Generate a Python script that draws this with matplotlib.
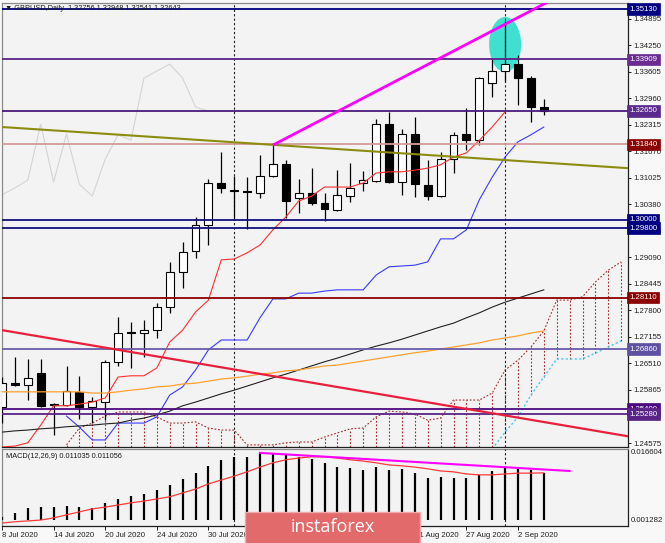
import numpy as np
import matplotlib
matplotlib.use('Agg')
import matplotlib.pyplot as plt
from matplotlib.patches import Ellipse, FancyBboxPatch
from matplotlib.transforms import blended_transform_factory

plt.rcParams['font.family'] = ['Liberation Sans', 'DejaVu Sans']

# ---------------- data ----------------
opens = [1.2545, 1.2603, 1.2599, 1.2628, 1.2553, 1.2550, 1.2582, 1.2545, 1.2557, 1.2655,
         1.2727, 1.2725, 1.2732, 1.2788, 1.2873, 1.2924, 1.2988, 1.3090, 1.3073, 1.3070,
         1.3066, 1.3107, 1.3136, 1.3053, 1.3066, 1.3041, 1.3024, 1.3058, 1.3090, 1.3095,
         1.3233, 1.3092, 1.3209, 1.3085, 1.3058, 1.3148, 1.3209, 1.3194, 1.3333, 1.3362,
         1.3379, 1.3345, 1.32756]
highs = [1.2618, 1.2667, 1.2662, 1.2662, 1.2556, 1.2645, 1.2621, 1.2569, 1.2659, 1.2764,
         1.2752, 1.2757, 1.2798, 1.2898, 1.2946, 1.3007, 1.3100, 1.3165, 1.3107, 1.3104,
         1.3158, 1.3182, 1.3146, 1.3100, 1.3126, 1.3066, 1.3121, 1.3139, 1.3119, 1.3246,
         1.3263, 1.3221, 1.3250, 1.3146, 1.3165, 1.3214, 1.3272, 1.3348, 1.3391, 1.3484,
         1.3401, 1.3350, 1.32948]
lows = [1.2506, 1.2596, 1.2562, 1.2545, 1.2477, 1.2548, 1.2516, 1.2506, 1.2514, 1.2645,
        1.2640, 1.2667, 1.2713, 1.2774, 1.2835, 1.2907, 1.2939, 1.3066, 1.2999, 1.2978,
        1.3053, 1.3104, 1.3005, 1.3017, 1.3036, 1.2997, 1.3022, 1.3044, 1.3070, 1.3092,
        1.3090, 1.3061, 1.3056, 1.3048, 1.3056, 1.3114, 1.3170, 1.3182, 1.3299, 1.3336,
        1.3280, 1.3238, 1.32541]
closes = [1.2603, 1.2599, 1.2616, 1.2547, 1.2551, 1.2584, 1.2545, 1.2560, 1.2655, 1.2725,
          1.2725, 1.2732, 1.2788, 1.2873, 1.2922, 1.2988, 1.3090, 1.3078, 1.3070, 1.3067,
          1.3107, 1.3136, 1.3046, 1.3066, 1.3041, 1.3026, 1.3061, 1.3078, 1.3097, 1.3233,
          1.3092, 1.3209, 1.3087, 1.3058, 1.3148, 1.3207, 1.3194, 1.3345, 1.3362, 1.3379,
          1.3345, 1.3275, 1.32643]

tenkan = [1.2448, 1.2450, 1.2458, 1.2501, 1.2548, 1.2548, 1.2552, 1.2557, 1.2567, 1.2618,
          1.2621, 1.2621, 1.2640, 1.2703, 1.2732, 1.2776, 1.2805, 1.2903, 1.2905, 1.2920,
          1.2939, 1.2976, 1.3007, 1.3046, 1.3058, 1.3080, 1.3080, 1.3080, 1.3090, 1.3114,
          1.3117, 1.3117, 1.3121, 1.3126, 1.3134, 1.3153, 1.3163, 1.3194, 1.3226, 1.3263]
kijun_start = 5
kijun = [1.2523, 1.2496, 1.2465, 1.2465, 1.2506, 1.2506, 1.2506, 1.2521, 1.2574, 1.2594,
         1.2635, 1.2684, 1.2708, 1.2708, 1.2708, 1.2762, 1.2808, 1.2808, 1.2822, 1.2822,
         1.2827, 1.2830, 1.2830, 1.2830, 1.2866, 1.2886, 1.2888, 1.2890, 1.2898, 1.2954,
         1.2954, 1.2976, 1.3049, 1.3104, 1.3153, 1.3190, 1.3207, 1.3226]
ma_black = [1.2484, 1.2487, 1.2489, 1.2492, 1.2494, 1.2497, 1.2499, 1.2501, 1.2504, 1.2506,
            1.2513, 1.2518, 1.2526, 1.2535, 1.2548, 1.2557, 1.2567, 1.2577, 1.2586, 1.2596,
            1.2606, 1.2616, 1.2625, 1.2635, 1.2645, 1.2655, 1.2664, 1.2674, 1.2684, 1.2693,
            1.2701, 1.2710, 1.2720, 1.2730, 1.2740, 1.2749, 1.2762, 1.2774, 1.2788, 1.2800,
            1.2810, 1.2820, 1.2830]
ma_orange = [1.2582, 1.2582, 1.2582, 1.2582, 1.2582, 1.2582, 1.2582, 1.2579, 1.2579, 1.2582,
             1.2586, 1.2589, 1.2594, 1.2596, 1.2601, 1.2603, 1.2608, 1.2613, 1.2616, 1.2620,
             1.2625, 1.2628, 1.2633, 1.2635, 1.2640, 1.2645, 1.2647, 1.2652, 1.2657, 1.2662,
             1.2667, 1.2672, 1.2677, 1.2681, 1.2686, 1.2691, 1.2696, 1.2701, 1.2708, 1.2713,
             1.2718, 1.2725, 1.2730]
cloud_start = 5
cloud_top = [1.2453, 1.2494, 1.2506, 1.2523, 1.2533, 1.2533, 1.2533, 1.2521, 1.2506, 1.2506,
             1.2509, 1.2494, 1.2489, 1.2489, 1.2453, 1.2453, 1.2453, 1.2458, 1.2460, 1.2460,
             1.2472, 1.2482, 1.2492, 1.2494, 1.2521, 1.2535, 1.2533, 1.2528, 1.2513, 1.2518,
             1.2562, 1.2562, 1.2562, 1.2579, 1.2635, 1.2659, 1.2691, 1.2730, 1.2805, 1.2805,
             1.2813, 1.2849, 1.2878, 1.2898]
cloud_low_start = 38
cloud_low = [1.2443, 1.2484, 1.2521, 1.2574, 1.2618, 1.2662, 1.2662, 1.2662, 1.2676, 1.2691, 1.2706]
chikou_shift = 26

macd_hist = [0.0008, 0.0017, 0.0029, 0.0031, 0.0031, 0.0034, 0.0031, 0.0029, 0.0041, 0.0050,
             0.0057, 0.0062, 0.0071, 0.0082, 0.0096, 0.0110, 0.0127, 0.0141, 0.0148, 0.0148,
             0.0157, 0.0157, 0.0152, 0.0148, 0.0143, 0.0134, 0.0124, 0.0122, 0.0117, 0.0124,
             0.0117, 0.0120, 0.0110, 0.0099, 0.0101, 0.0099, 0.0099, 0.0106, 0.0115, 0.0122,
             0.0120, 0.0117, 0.01104]
macd_signal = [-0.0006, -0.0003, -0.0001, 0.0001, 0.0006, 0.0013, 0.0020, 0.0027, 0.0031, 0.0036,
               0.0041, 0.0045, 0.0050, 0.0055, 0.0064, 0.0073, 0.0085, 0.0094, 0.0103, 0.0113,
               0.0124, 0.0134, 0.0141, 0.0145, 0.0148, 0.0148, 0.0145, 0.0141, 0.0138, 0.0134,
               0.0129, 0.0127, 0.0124, 0.0120, 0.0115, 0.0113, 0.0108, 0.0106, 0.0106, 0.0108,
               0.0110, 0.0110, 0.01106]

levels = [1.35130, 1.33909, 1.32650, 1.31840, 1.30000, 1.29800, 1.28110, 1.26860, 1.25400, 1.25280]
level_line_colors = ['#000080', '#5a2388', '#4a1a7c', '#d49a9a', '#11117e', '#11117e',
                     '#8b0000', '#6a5caa', '#4b0a82', '#5a2388']
level_box_colors = ['#000080', '#6a2c91', '#5a2a8c', '#8b0000', '#000080', '#000080',
                    '#8b0000', '#5e50a2', '#4b0a82', '#5a2388']

price_ticks = [1.24575, 1.25220, 1.25865, 1.26510, 1.27155, 1.27800, 1.28445, 1.29090,
               1.29735, 1.30380, 1.31025, 1.31670, 1.32315, 1.32960, 1.33605, 1.34250, 1.34895]

# labels hidden under the logo in the reference are left out
date_tick_idx = [0, 4, 8, 12, 16, 32, 36, 40]
date_tick_labels = ['8 Jul 2020', '14 Jul 2020', '20 Jul 2020', '24 Jul 2020', '30 Jul 2020',
                    '21 Aug 2020', '27 Aug 2020', '2 Sep 2020']
month_separators = [18, 39]

# trend lines (bar index, price)
magenta_ray = [(21, 1.3182), (39, 1.3476)]
olive_line = [(0, 1.3226), (48, 1.3127)]
red_line = [(0, 1.2732), (47, 1.2482)]
macd_trend = [(20, 0.0157), (44, 0.0115)]

header = '\u25bc GBPUSD,Daily  1.32756 1.32948 1.32541 1.32643'
macd_title = 'MACD(12,26,9) 0.011035 0.011056'

# ---------------- figure ----------------
W, H = 665, 543
fig = plt.figure(figsize=(W / 100, H / 100), dpi=100, facecolor='#f8f8f8')
ax = fig.add_axes([2 / W, 1 - 447 / H, 626 / W, 444 / H])
ax2 = fig.add_axes([2 / W, 1 - 526 / H, 626 / W, 77 / H])
XMAX = 626 / 12.9
for a in (ax, ax2):
    a.set_facecolor('#f3f3f3')
    a.set_xlim(0, XMAX)
    for side, s in a.spines.items():
        s.set_linewidth(0.9)
        s.set_color('#202020' if side in ('right', 'bottom') else '#8a8a8a')
ax.set_ylim(1.24478, 1.35276)
ax2.set_ylim(-0.001282, 0.016604)

fs = 5.6

# ellipse highlight
ax.add_patch(Ellipse((39, 1.34267), width=2.48, height=0.01338, facecolor='#40e0d0',
                     edgecolor='none', zorder=1.5))

# Ichimoku cloud
ct_x = np.arange(cloud_start, cloud_start + len(cloud_top))
low_full = np.full(len(ct_x), np.nan)
low_full[cloud_low_start - cloud_start:] = cloud_low
ybot = ax.get_ylim()[0]
bottoms = np.where(np.isnan(low_full), ybot, np.maximum(np.nan_to_num(low_full, nan=ybot), ybot))
dot = (0, (1.6, 1.6))
ax.vlines(ct_x, bottoms, cloud_top, colors='#a8302e', linestyles=[dot], lw=0.8, zorder=2.5)
ax.plot(ct_x, cloud_top, color='#a8302e', ls=dot, lw=0.8, zorder=2.6)
ax.plot(np.arange(cloud_low_start, cloud_low_start + len(cloud_low)), cloud_low,
        color='#4cc6f4', ls=dot, lw=1.0, zorder=2.6)

# chikou
ch = closes[chikou_shift:]
ax.plot(np.arange(len(ch)), ch, color='#d4d4d4', lw=0.8, zorder=2)

# candles
o = np.array(opens); c = np.array(closes)
idx = np.arange(len(o))
up = c >= o
bb = np.minimum(o, c)
bh = np.maximum(np.abs(c - o), 0.00006)
ax.vlines(idx, lows, highs, color='black', lw=0.9, zorder=5)
ax.bar(idx[up], bh[up], bottom=bb[up], width=0.62, facecolor='white', edgecolor='black',
       lw=0.8, zorder=6)
ax.bar(idx[~up], bh[~up], bottom=bb[~up], width=0.62, facecolor='black', edgecolor='black',
       lw=0.8, zorder=6)

# indicator lines
ax.plot(np.arange(len(tenkan)), tenkan, color='#ff3030', lw=0.8, zorder=7)
ax.plot(np.arange(kijun_start, kijun_start + len(kijun)), kijun, color='#3a3aff', lw=0.8, zorder=7)
ax.plot(np.arange(len(ma_black)), ma_black, color='#222222', lw=0.8, zorder=7)
ax.plot(np.arange(len(ma_orange)), ma_orange, color='#ffa030', lw=0.9, zorder=7)

# horizontal levels with labels
tr = blended_transform_factory(ax.transAxes, ax.transData)
for v, lc, bc in zip(levels, level_line_colors, level_box_colors):
    ax.axhline(v, color=lc, lw=1.3, zorder=8)
    ax.text(1.0 + 1.5 / 626, v, f'{v:.5f}', transform=tr, ha='left', va='center',
            fontsize=fs, color='white', zorder=30, clip_on=False,
            bbox=dict(boxstyle='square,pad=0.28', fc=bc, ec=bc, lw=0.5))

# trend lines
ax.axline(olive_line[0], olive_line[1], color='#8c8c10', lw=1.5, zorder=8)
ax.axline(red_line[0], red_line[1], color='#e8203c', lw=1.6, zorder=8)
(x1, y1), (x2, y2) = magenta_ray
slope = (y2 - y1) / (x2 - x1)
ax.plot([x1, XMAX + 1], [y1, y1 + slope * (XMAX + 1 - x1)], color='#ff00ff', lw=2.0,
        zorder=8, solid_capstyle='butt')

# separators
for a in (ax, ax2):
    for s in month_separators:
        a.axvline(s, color='#202020', ls=(0, (2, 2)), lw=0.8, zorder=4)

# axes ticks
ax.set_xticks([])
ax.yaxis.tick_right()
ax.set_yticks(price_ticks)
ax.set_yticklabels([f'{t:.5f}' for t in price_ticks])
ax.tick_params(axis='y', direction='out', length=2.5, width=0.7, pad=1.5, labelsize=fs,
               colors='#202020')

ax.text(3 / 626, (447 - 9) / 444, header, transform=ax.transAxes, ha='left', va='center',
        fontsize=5.3, color='#1a1a1a', zorder=25)

# MACD panel
ax2.vlines(idx, 0, macd_hist, color='black', lw=1.6, zorder=5)
ax2.plot(idx, macd_signal, color='#ff3a3a', lw=0.9, zorder=6)
ax2.plot([p[0] for p in macd_trend], [p[1] for p in macd_trend], color='#ff00ff', lw=1.5, zorder=7)
ax2.set_yticks([])
ax2.text(4 / 626, (526 - 456) / 77, macd_title, transform=ax2.transAxes, ha='left',
         va='center', fontsize=5.3, color='#1a1a1a', zorder=25)
tr2 = blended_transform_factory(ax2.transAxes, ax2.transData)
ax2.text(1.0 + 3 / 626, 0.016604, '0.016604', transform=tr2, ha='left', va='top',
         fontsize=fs, color='#202020', clip_on=False)
ax2.text(1.0 + 3 / 626, 0.0, '0.001282', transform=tr2, ha='left', va='center',
         fontsize=fs, color='#202020', clip_on=False)
ax2.set_xticks(date_tick_idx)
ax2.set_xticklabels(date_tick_labels)
for lbl in ax2.get_xticklabels():
    lbl.set_ha('left')
ax2.tick_params(axis='x', direction='out', length=3, width=0.7, pad=1.5, labelsize=fs,
                colors='#202020')

# logo
fig.add_artist(FancyBboxPatch((245 / W, -0.01), 175 / W, 31 / H + 0.01,
                              boxstyle='square,pad=0', transform=fig.transFigure,
                              facecolor='#e36a6a', edgecolor='#f2a8a8', lw=1.0, zorder=10))
fig.text((245 + 87.5) / W, (543 - 527) / H, 'instaforex', color='white', fontsize=13,
         ha='center', va='center', family=['Open Sans', 'DejaVu Sans'], zorder=11)

fig.savefig('out.png', dpi=100, facecolor=fig.get_facecolor())
